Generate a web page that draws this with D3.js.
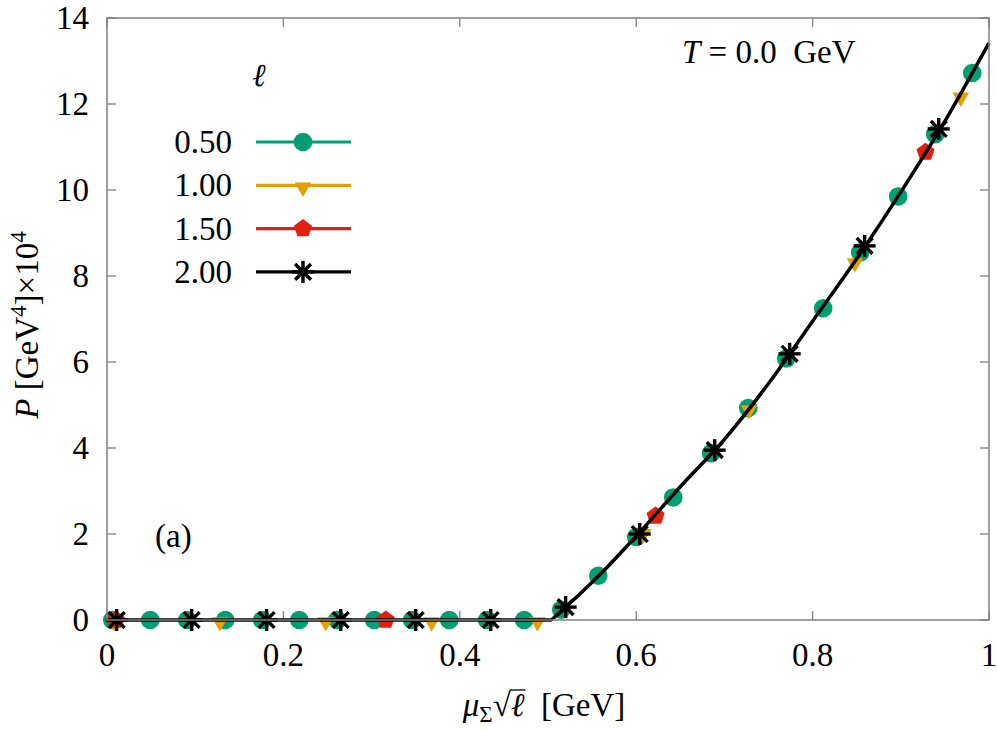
<!DOCTYPE html>
<head>
  <meta charset="utf-8">
  <script src="https://cdnjs.cloudflare.com/ajax/libs/d3/7.8.5/d3.min.js"></script>
  <style>
    body { margin: 0; background: #fff; }
    text { font-family: "Liberation Serif", serif; fill: #000; }
  </style>
</head>
<body>
<script>

// ---- data ----
var xTicks = [0, 0.2, 0.4, 0.6, 0.8, 1]
var xTickLabels = ["0", "0.2", "0.4", "0.6", "0.8", "1"]
var yTicks = [0, 2, 4, 6, 8, 10, 12, 14]

var seriesNames = ["0.50", "1.00", "1.50", "2.00"]
var seriesColors = ["#009e73", "#e69f00", "#e51e10", "#000000"]

// l = 0.50 (circles)
var x050 = [0.006, 0.049, 0.091, 0.134, 0.176, 0.218, 0.261, 0.303, 0.346, 0.388, 0.431, 0.473,
            0.515, 0.557, 0.600, 0.642, 0.685, 0.727, 0.770, 0.812, 0.854, 0.897, 0.939, 0.981]
var y050 = [0, 0, 0, 0, 0, 0, 0, 0, 0, 0, 0, 0,
            0.24, 1.03, 1.93, 2.85, 3.88, 4.93, 6.08, 7.25, 8.55, 9.85, 11.3, 12.72]
// l = 1.00 (triangles)
var x100 = [0.008, 0.128, 0.248, 0.368, 0.488, 0.608, 0.728, 0.848, 0.968]
var y100 = [0, 0, 0, 0, 0, 2.05, 4.93, 8.35, 12.2]
// l = 1.50 (pentagons)
var x150 = [0.010, 0.316, 0.622, 0.928]
var y150 = [0, 0, 2.42, 10.88]
// l = 2.00 (stars)
var x200 = [0.011, 0.096, 0.181, 0.265, 0.350, 0.435, 0.520, 0.604, 0.689, 0.774, 0.859, 0.943]
var y200 = [0, 0, 0, 0, 0, 0, 0.3, 2.0, 3.95, 6.19, 8.7, 11.42]
// black curve
var xCurve = [0, 0.503, 0.51, 0.52, 0.54, 0.56, 0.6, 0.65, 0.7, 0.75, 0.8, 0.85, 0.9, 0.95, 1.0]
var yCurve = [0, 0, 0.12, 0.3, 0.68, 1.08, 1.95, 3.1, 4.2, 5.5, 6.95, 8.4, 9.95, 11.6, 13.42]

var width = 997, height = 730
var plotL = 107, plotR = 989, plotT = 18, plotB = 620

var svg = d3.select("body").append("svg")
  .attr("width", width).attr("height", height)

var x = d3.scaleLinear().domain([0, 1]).range([plotL, plotR])
var y = d3.scaleLinear().domain([0, 14]).range([plotB, plotT])

var frameColor = "#808080"
var tickLen = 9

// ticks (inward, mirrored)
var tg = svg.append("g").attr("stroke", frameColor).attr("stroke-width", 1.3)
xTicks.forEach(function(t) {
  tg.append("line").attr("x1", x(t)).attr("x2", x(t)).attr("y1", plotB).attr("y2", plotB - tickLen)
  tg.append("line").attr("x1", x(t)).attr("x2", x(t)).attr("y1", plotT).attr("y2", plotT + tickLen)
})
yTicks.forEach(function(t) {
  tg.append("line").attr("x1", plotL).attr("x2", plotL + tickLen).attr("y1", y(t)).attr("y2", y(t))
  tg.append("line").attr("x1", plotR).attr("x2", plotR - tickLen).attr("y1", y(t)).attr("y2", y(t))
})

// tick labels
svg.append("g").selectAll("text").data(xTicks).enter().append("text")
  .attr("x", function(d) { return x(d) })
  .attr("y", 666)
  .attr("text-anchor", "middle")
  .style("font-size", "33px")
  .text(function(d, i) { return xTickLabels[i] })

svg.append("g").selectAll("text").data(yTicks).enter().append("text")
  .attr("x", 89)
  .attr("y", function(d) { return y(d) + 11 })
  .attr("text-anchor", "end")
  .style("font-size", "33px")
  .text(function(d) { return d })

// symbols
function pentagon(r) {
  var pts = []
  for (var k = 0; k < 5; k++) {
    var a = -Math.PI / 2 + k * 2 * Math.PI / 5
    pts.push([r * Math.cos(a), r * Math.sin(a)])
  }
  return "M" + pts.map(function(p) { return p[0].toFixed(2) + "," + p[1].toFixed(2) }).join("L") + "Z"
}
var triPath = d3.symbol().type(d3.symbolTriangle).size(120)()

function drawMarker(g, kind, cx, cy, color) {
  if (kind === 0) {
    g.append("circle").attr("cx", cx).attr("cy", cy).attr("r", 9.3).attr("fill", color)
  } else if (kind === 1) {
    g.append("path").attr("d", triPath)
      .attr("transform", "translate(" + cx + "," + (cy + 2) + ") rotate(180)")
      .attr("fill", color)
  } else if (kind === 2) {
    g.append("path").attr("d", pentagon(9.5))
      .attr("transform", "translate(" + cx + "," + cy + ")")
      .attr("fill", color)
  } else {
    var s = 11, dd = s * 0.72
    var sg = g.append("g").attr("stroke", color).attr("stroke-width", 3.4)
    sg.append("line").attr("x1", cx).attr("x2", cx).attr("y1", cy - s).attr("y2", cy + s)
    sg.append("line").attr("x1", cx - s).attr("x2", cx + s).attr("y1", cy).attr("y2", cy)
    sg.append("line").attr("x1", cx - dd).attr("x2", cx + dd).attr("y1", cy - dd).attr("y2", cy + dd)
    sg.append("line").attr("x1", cx - dd).attr("x2", cx + dd).attr("y1", cy + dd).attr("y2", cy - dd)
  }
}

var plot = svg.append("g")
var seriesX = [x050, x100, x150]
var seriesY = [y050, y100, y150]
seriesX.forEach(function(xs, k) {
  xs.forEach(function(v, i) {
    drawMarker(plot, k, x(v), y(seriesY[k][i]), seriesColors[k])
  })
})

var line = d3.line()
  .x(function(d) { return x(d[0]) })
  .y(function(d) { return y(d[1]) })
  .curve(d3.curveMonotoneX)

plot.append("path")
  .datum(xCurve.map(function(v, i) { return [v, yCurve[i]] }))
  .attr("d", line)
  .attr("fill", "none")
  .attr("stroke", "#000")
  .attr("stroke-width", 3.5)
  .attr("stroke-linejoin", "round")

x200.forEach(function(v, i) {
  drawMarker(plot, 3, x(v), y(y200[i]), seriesColors[3])
})

// frame
svg.append("rect")
  .attr("x", plotL).attr("y", plotT)
  .attr("width", plotR - plotL).attr("height", plotB - plotT)
  .attr("fill", "none").attr("stroke", frameColor).attr("stroke-width", 1.5)

// legend
svg.append("text")
  .attr("x", 259).attr("y", 86)
  .attr("text-anchor", "middle")
  .style("font-size", "32px")
  .style("font-style", "italic")
  .text("ℓ")

seriesNames.forEach(function(name, i) {
  var ly = 142 + i * 43.3
  svg.append("text")
    .attr("x", 232).attr("y", ly + 11)
    .attr("text-anchor", "end")
    .style("font-size", "33px")
    .text(name)
  svg.append("line")
    .attr("x1", 256).attr("x2", 351).attr("y1", ly).attr("y2", ly)
    .attr("stroke", seriesColors[i]).attr("stroke-width", 3.2)
  drawMarker(svg, i, 303, ly, seriesColors[i])
})

// annotations
var tt = svg.append("text").attr("x", 682).attr("y", 63).style("font-size", "33px")
tt.append("tspan").style("font-style", "italic").text("T")
tt.append("tspan").text(" = 0.0 \u00a0GeV")

svg.append("text").attr("x", 155).attr("y", 547).style("font-size", "33px").text("(a)")

// y label
var yl = svg.append("text")
  .attr("transform", "translate(38," + 325 + ") rotate(-90)")
  .attr("text-anchor", "middle")
  .style("font-size", "33px")
yl.append("tspan").style("font-style", "italic").text("P")
yl.append("tspan").text(" [GeV")
yl.append("tspan").attr("dy", -12).style("font-size", "23px").text("4")
yl.append("tspan").attr("dy", 12).text("]\u00d710")
yl.append("tspan").attr("dy", -12).style("font-size", "23px").text("4")

// x label
var xl = svg.append("text")
  .attr("x", 544).attr("y", 716)
  .attr("text-anchor", "middle")
  .style("font-size", "33px")
xl.append("tspan").style("font-style", "italic").text("μ")
xl.append("tspan").attr("dy", 6).style("font-size", "23px").text("Σ")
xl.append("tspan").attr("dy", -6).text("√")
xl.append("tspan").style("font-style", "italic").text("ℓ")
xl.append("tspan").text("\u00a0 [GeV]")

var node = xl.node()
var txt = node.textContent
var iSq = txt.indexOf("√"), iEll = txt.indexOf("ℓ")
var eSq = node.getExtentOfChar(iSq), eEll = node.getExtentOfChar(iEll)
svg.append("line")
  .attr("x1", eSq.x + eSq.width - 1).attr("x2", eEll.x + eEll.width + 1)
  .attr("y1", eSq.y + 3).attr("y2", eSq.y + 3)
  .attr("stroke", "#000").attr("stroke-width", 1.3)

</script>
</body>
